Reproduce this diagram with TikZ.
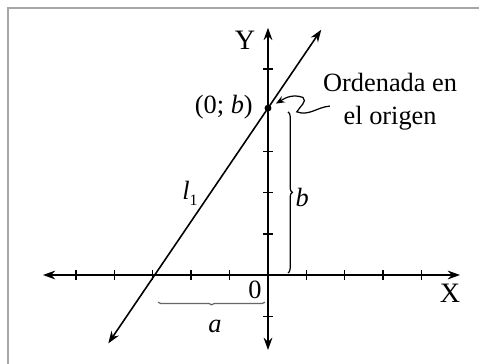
\documentclass[tikz,border=0pt]{standalone}
\usepackage{fontspec}
\setmainfont{Liberation Serif}
\usetikzlibrary{arrows.meta,calc,decorations.pathreplacing}

\begin{document}
\begin{tikzpicture}[x=0.768cm, y=0.824cm,
  every node/.style={font=\fontsize{15}{18.7}\selectfont},
  axis/.style={line width=0.9pt, {Stealth[length=7pt,width=5pt]}-{Stealth[length=7pt,width=5pt]}},
  tickmark/.style={line width=0.8pt},
  thinbrace/.style={decorate, decoration={brace, amplitude=2.5pt}, line width=0.7pt}]
  \useasboundingbox (-6.979,-2.136) rectangle (5.495,6.675);
  \fill[white] (-6.979,-2.136) rectangle (5.495,6.675);

  % Frame
  \draw[gray!70, line width=1.6pt] (-6.77,-2.2) -- (-6.77,6.48) -- (5.6,6.48);

  % Axes
  \coordinate (xl) at (-5.86,0);
  \coordinate (xr) at (5.0,0);
  \coordinate (yb) at (0,-1.82);
  \coordinate (yt) at (0,6.0);
  \draw[axis] (xl) -- (xr);
  \draw[axis] (yb) -- (yt);
  \foreach \i in {-5,...,-1,1,2,3,4}
    \draw[tickmark] (\i,-0.12) -- (\i,0.12);
  \foreach \j in {-1,1,2,3,5}
    \draw[tickmark] (-0.13,\j) -- (0.13,\j);

  % Line l1
  \coordinate (xcut) at (-2.95,0);
  \node[circle, fill, inner sep=1.4pt] (pb) at (0,4.05) {};
  \coordinate (lend) at ($(xcut)!-0.41!(pb)$);
  \coordinate (uend) at ($(xcut)!1.47!(pb)$);
  \draw[axis] (lend) -- (uend);

  % Labels
  \node (ylab) at (-0.6,5.70) {\fontsize{16}{18}\selectfont Y};
  \node (xlab) at (4.74,-0.44) {\fontsize{16}{18}\selectfont X};
  \node (zero) at (-0.34,-0.36) {0};
  \node (pblab) at (-1.15,4.08) {(0; \textit{b})};
  \node (llab) at (-2.03,1.99) {\textit{l}\raisebox{-0.5ex}{\small 1}};
  \node (blab) at (0.89,1.87) {\textit{b}};
  \node (alab) at (-1.38,-1.26) {\textit{a}};
  \node[align=center] (note) at (3.18,4.21) {Ordenada en\\el origen};

  % Braces
  \coordinate (bt) at (0.52,3.96);
  \coordinate (bb) at (0.52,0.05);
  \draw[thinbrace] (bt) -- (bb);
  \coordinate (ar) at (-0.08,-0.66);
  \coordinate (al) at (-2.86,-0.66);
  \draw[thinbrace, gray!80!black, decoration={amplitude=1.5pt}] (ar) -- (al);

  % Pointer to the intercept
  \coordinate (sqa) at (1.61,4.10);
  \coordinate (sqb) at (0.75,3.96);
  \coordinate (sqc) at (0.91,4.31);
  \draw[line width=0.7pt, -{Stealth[length=5pt,width=4pt]}, shorten >=3pt]
    (sqa) to[out=185,in=-20] (sqb) to[out=60,in=-40] (sqc) to[out=160,in=30] (pb);
\end{tikzpicture}
\end{document}
